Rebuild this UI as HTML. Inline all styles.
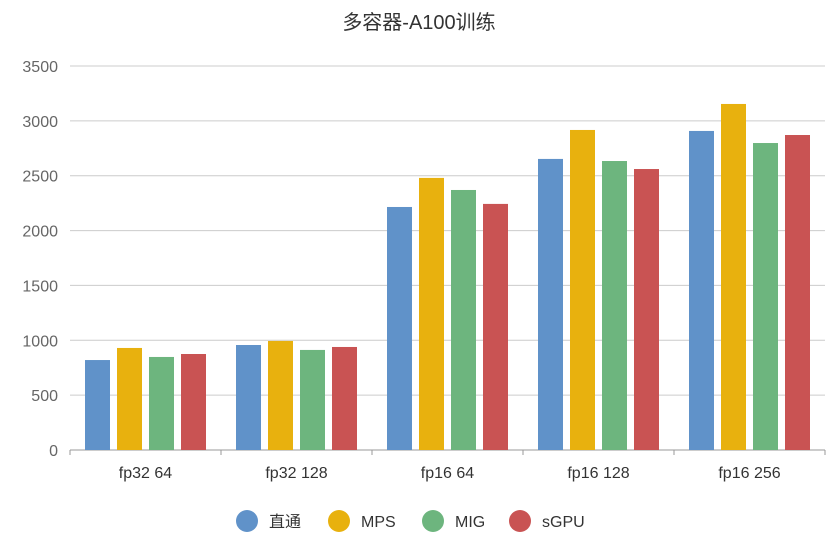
<!DOCTYPE html>
<html><head><meta charset="utf-8"><style>
body{margin:0;background:#fff;font-family:"Liberation Sans","Noto Sans CJK SC",sans-serif;}
svg text{font-family:"Liberation Sans","Noto Sans CJK SC",sans-serif;}
</style></head><body>
<svg id="chart" width="839" height="548" xmlns="http://www.w3.org/2000/svg">
<text x="419" y="29" text-anchor="middle" font-size="20" fill="#333">多容器-A100训练</text>
<g id="grid"></g><g id="bars"></g><g id="axes"></g><g id="legend"></g>
</svg>
<script>
const categories=["fp32 64","fp32 128","fp16 64","fp16 128","fp16 256"];
const seriesNames=["直通","MPS","MIG","sGPU"];
const seriesColors=["#6092c9","#e8b10e","#6db57e","#c95353"];
const passthrough=[820,957,2215,2653,2908];
const mps=[930,994,2480,2917,3154];
const mig=[848,912,2370,2634,2798];
const sgpu=[875,939,2243,2561,2871];
const yTicks=[0,500,1000,1500,2000,2500,3000,3500];
const series=[passthrough,mps,mig,sgpu];
const NS="http://www.w3.org/2000/svg";
const x0=70,x1=825,y0=450,y1=66,yMax=3500;
const yScale=v=>y0-(v/yMax)*(y0-y1);
const gw=(x1-x0)/categories.length;
function mk(tag,attrs,parent){const e=document.createElementNS(NS,tag);for(const k in attrs)e.setAttribute(k,attrs[k]);parent.appendChild(e);return e;}
const grid=document.getElementById('grid'),bars=document.getElementById('bars'),axes=document.getElementById('axes'),legend=document.getElementById('legend');
yTicks.forEach(t=>{const y=yScale(t);
 const l=mk('line',{x1:x0,x2:x1,y1:y,y2:y,stroke:t===0?'#999':'#ccc','stroke-width':1},grid);
 
 
 const tx=mk('text',{x:x0-12,y:y+6,'text-anchor':'end','font-size':16,fill:'#666'},axes);tx.textContent=t;
 
 
});
const bw=25,gap=7,pad=(gw-4*bw-3*gap)/2;
categories.forEach((c,i)=>{
 const gx=x0+i*gw;
 series.forEach((s,j)=>{
  const r=mk('rect',{x:gx+pad+j*(bw+gap),y:yScale(s[i]),width:bw,height:y0-yScale(s[i]),fill:seriesColors[j]},bars);
  
  
 });
 const tk=mk('line',{x1:gx,x2:gx,y1:y0,y2:y0+5,stroke:'#999'},axes);
 
 
 const tx=mk('text',{x:gx+gw/2,y:478,'text-anchor':'middle','font-size':16,fill:'#333'},axes);tx.textContent=c;
 
 
});
const lt=mk('line',{x1:x1,x2:x1,y1:y0,y2:y0+5,stroke:'#999'},axes);


const lx=[247,339,433,520];
seriesNames.forEach((n,j)=>{
 const g=mk('g',{},legend);
 
 
 mk('circle',{cx:lx[j],cy:521,r:11,fill:seriesColors[j]},g);
 const t=mk('text',{x:lx[j]+22,y:527,'font-size':16,fill:'#333'},g);t.textContent=n;
});
</script>
</body></html>
